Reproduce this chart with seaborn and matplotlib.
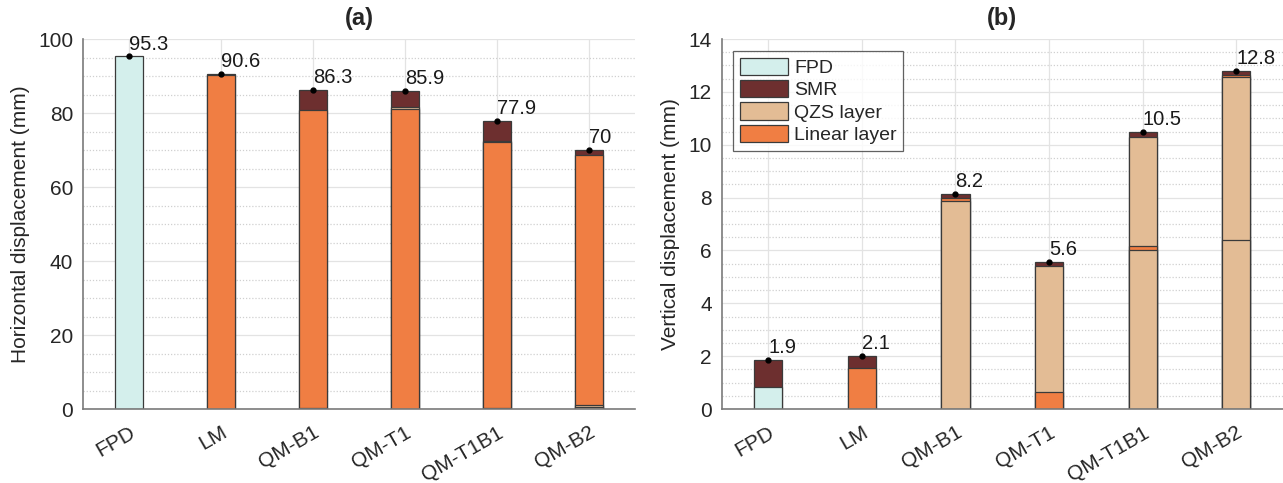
import numpy as np
import pandas as pd
import matplotlib
matplotlib.use("Agg")
import matplotlib.pyplot as plt
from matplotlib.patches import Patch
from matplotlib.ticker import AutoMinorLocator, MultipleLocator
import seaborn as sns

# models on the x axis
models = ["FPD", "LM", "QM-B1", "QM-T1", "QM-T1B1", "QM-B2"]

# (a) horizontal displacement: segments from bottom to top for each model
h_layers = [["FPD"],
            ["Linear layer", "SMR"],
            ["QZS layer", "Linear layer", "SMR"],
            ["Linear layer", "QZS layer", "SMR"],
            ["QZS layer", "Linear layer", "QZS layer", "SMR"],
            ["QZS layer", "QZS layer", "Linear layer", "SMR"]]
h_values = [[95.3],
            [90.2, 0.4],
            [0.4, 80.3, 5.6],
            [81.2, 0.3, 4.4],
            [0.4, 71.8, 0.3, 5.4],
            [0.5, 0.5, 67.6, 1.4]]
h_labels = ["95.3", "90.6", "86.3", "85.9", "77.9", "70"]

# (b) vertical displacement
v_layers = [["FPD", "SMR"],
            ["Linear layer", "SMR"],
            ["QZS layer", "Linear layer", "SMR"],
            ["Linear layer", "QZS layer", "SMR"],
            ["QZS layer", "Linear layer", "QZS layer", "SMR"],
            ["QZS layer", "QZS layer", "Linear layer", "SMR"]]
v_values = [[0.85, 1.0],
            [1.57, 0.43],
            [7.88, 0.12, 0.15],
            [0.65, 4.75, 0.16],
            [6.0, 0.15, 4.15, 0.2],
            [6.38, 6.17, 0.08, 0.17]]
v_labels = ["1.9", "2.1", "8.2", "5.6", "10.5", "12.8"]

legend_order = ["FPD", "SMR", "QZS layer", "Linear layer"]
colors = {"FPD": "#d4efec", "SMR": "#6d2f2f",
          "QZS layer": "#e3bc95", "Linear layer": "#f07e43"}

sns.set_style("white")
plt.rcParams["font.family"] = ["Liberation Sans", "DejaVu Sans"]
plt.rcParams["text.color"] = "#262626"


def stacked(ax, layers, values, labels, ymax, ystep, nminor, ylabel, title):
    # long table: one row per segment with its cumulative top
    rows = []
    for m, lay, val in zip(models, layers, values):
        tops = np.cumsum(val)
        for k, (t, top) in enumerate(zip(lay, tops)):
            rows.append({"model": m, "level": k, "type": t, "top": top})
    df = pd.DataFrame(rows)
    # draw highest level first, lower levels cover the bottom part
    for k in sorted(df["level"].unique(), reverse=True):
        sub = df[df["level"] == k]
        sns.barplot(data=sub, x="model", y="top", hue="type", order=models,
                    palette=colors, dodge=False, width=0.3, legend=False,
                    edgecolor="#3a3a3a", linewidth=0.9, saturation=1, ax=ax)

    totals = [np.sum(v) for v in values]
    ax.plot(range(len(models)), totals, "o", color="black", ms=3.5, zorder=5)
    for i, (tot, lab) in enumerate(zip(totals, labels)):
        ax.annotate(lab, (i, tot), xytext=(0, 2), textcoords="offset points",
                    ha="left", va="bottom", fontsize=14.5, color="#1a1a1a")

    ax.set_xlim(-0.5, len(models) - 0.5)
    ax.set_ylim(0, ymax)
    ax.yaxis.set_major_locator(MultipleLocator(ystep))
    ax.yaxis.set_minor_locator(AutoMinorLocator(nminor))
    ax.set_axisbelow(True)
    ax.grid(which="major", color="#e3e3e3", lw=0.9)
    ax.yaxis.grid(which="minor", color="#d0d0d0", lw=0.9, ls=(0, (1, 1.5)))
    for s in ["top", "right"]:
        ax.spines[s].set_visible(False)
    for s in ["left", "bottom"]:
        ax.spines[s].set_color("#7a7a7a")
        ax.spines[s].set_linewidth(1.2)
    ax.tick_params(axis="both", which="major", direction="in", length=5,
                   color="#7a7a7a", labelsize=15, labelcolor="#262626", pad=7)
    ax.tick_params(axis="x", which="major", pad=10)
    ax.tick_params(axis="y", which="minor", length=0)
    ax.set_xticks(range(len(models)))
    ax.set_xticklabels(models, rotation=30, ha="right", rotation_mode="anchor")
    ax.set_xlabel("")
    ax.set_ylabel(ylabel, fontsize=15, color="#262626", labelpad=6)
    ax.set_title(title, fontsize=17, fontweight="bold", pad=10)


fig = plt.figure(figsize=(12.83, 4.83), dpi=100)
ax1 = fig.add_axes([0.0647, 0.1532, 0.4302, 0.766])
ax2 = fig.add_axes([0.5624, 0.1532, 0.4376, 0.766])

stacked(ax1, h_layers, h_values, h_labels, 100, 20, 4,
        "Horizontal displacement (mm)", "(a)")
stacked(ax2, v_layers, v_values, v_labels, 14, 2, 4,
        "Vertical displacement (mm)", "(b)")

handles = [Patch(facecolor=colors[t], edgecolor="#3a3a3a", lw=0.9) for t in legend_order]
leg = ax2.legend(handles, legend_order, loc="upper left", bbox_to_anchor=(0.02, 0.968),
                 fontsize=14, frameon=True, fancybox=False, handlelength=2.5,
                 handleheight=1.0, handletextpad=0.3, labelspacing=0.15,
                 borderpad=0.35, borderaxespad=0)
leg.get_frame().set_edgecolor("#3a3a3a")
leg.get_frame().set_linewidth(0.9)

fig.savefig("out.png", dpi=100)
